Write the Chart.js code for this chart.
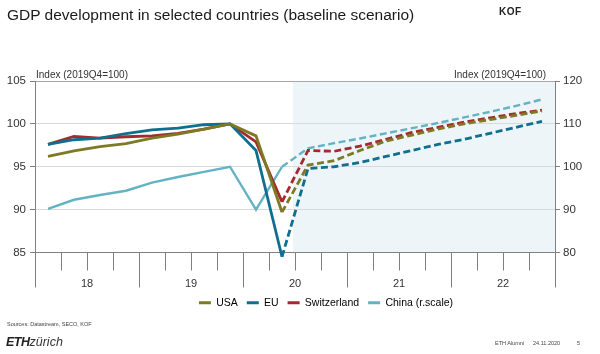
<!DOCTYPE html>
<html lang="en">
<head>
    <meta charset="UTF-8">
    <title>GDP development in selected countries</title>
    <script src="https://cdn.jsdelivr.net/npm/chart.js@4.4.1/dist/chart.umd.min.js"></script>
    <style>
        body {
            margin: 0;
            background: #fff;
            font-family: "Liberation Sans", Arial, sans-serif;
            color: #222;
        }
        .slide {
            position: relative;
            width: 600px;
            height: 354px;
            overflow: hidden;
        }
        .slide canvas {
            position: absolute;
            left: 0;
            top: 0;
        }
        .txt {
            position: absolute;
            white-space: nowrap;
            line-height: 1;
        }
        .title { left: 7px; top: 7px; font-size: 15.5px; color: #1a1a1a; }
        .kof { left: 499px; top: 7px; font-size: 10px; font-weight: bold; letter-spacing: 0.5px; }
        .unit { top: 70px; font-size: 10px; color: #333; }
        .src { left: 7px; top: 322px; font-size: 5.5px; color: #444; }
        .eth { left: 6px; top: 336px; font-size: 12.5px; font-style: italic; }
        .eth b { font-weight: 900; letter-spacing: -0.5px; }
        .eth span { font-weight: normal; color: #333; }
        .foot { top: 341px; font-size: 5.5px; color: #444; }
    </style>
</head>
<body>
<div class="slide">
    <canvas id="gdpChart" width="600" height="354"></canvas>
    <div class="txt title">GDP development in selected countries (baseline scenario)</div>
    <div class="txt kof">KOF</div>
    <div class="txt unit" style="left:36px">Index (2019Q4=100)</div>
    <div class="txt unit" style="left:454px">Index (2019Q4=100)</div>
    <div class="txt src">Sources: Datastream, SECO, KOF</div>
    <div class="txt eth"><b>ETH</b><span>zürich</span></div>
    <div class="txt foot" style="left:495px">ETH Alumni</div>
    <div class="txt foot" style="left:533px">24.11.2020</div>
    <div class="txt foot" style="left:577px">5</div>
</div>
<script>
    // quarters 2018Q1 .. 2022Q4
    const quarters = [
        '2018Q1', '2018Q2', '2018Q3', '2018Q4',
        '2019Q1', '2019Q2', '2019Q3', '2019Q4',
        '2020Q1', '2020Q2', '2020Q3', '2020Q4',
        '2021Q1', '2021Q2', '2021Q3', '2021Q4',
        '2022Q1', '2022Q2', '2022Q3', '2022Q4'
    ];
    const yearLabels = ['18', '19', '20', '21', '22'];

    // index 2019Q4 = 100, last observed quarter is 2020Q2
    const usa = [96.2, 96.85, 97.35, 97.7, 98.35, 98.8, 99.4, 100, 98.6, 89.7,
                 95.2, 95.7, 96.9, 98.0, 98.7, 99.4, 100.0, 100.5, 101.0, 101.5];
    const eu = [97.6, 98.15, 98.35, 98.85, 99.3, 99.5, 99.9, 100, 96.9, 84.5,
                94.8, 95.0, 95.5, 96.2, 96.9, 97.6, 98.2, 98.9, 99.6, 100.3];
    const switzerland = [97.6, 98.55, 98.35, 98.5, 98.6, 98.9, 99.4, 100, 97.9, 90.9,
                         96.9, 96.8, 97.4, 98.2, 99.0, 99.6, 100.2, 100.7, 101.2, 101.6];
    const china = [90.2, 92.3, 93.4, 94.4, 96.3, 97.6, 98.8, 100, 90.0, 100.0,
                   104.3, 105.5, 106.6, 107.8, 109.0, 110.2, 111.5, 112.8, 114.2, 115.7];

    const lastObserved = 9;    // 2020Q2, dashed after this
    const forecastFrom = 10;   // shaded area starts at 2020Q3

    Chart.defaults.font.family = '"Liberation Sans", Arial, sans-serif';
    Chart.defaults.color = '#333';

    // points sit in the middle of each quarter
    function toPoints(values) {
        return values.map((v, i) => ({x: i + 0.5, y: v}));
    }

    function makeSeries(label, values, color, width, axis) {
        return {
            label: label,
            data: toPoints(values),
            yAxisID: axis,
            borderColor: color,
            backgroundColor: color,
            borderWidth: width,
            pointRadius: 0,
            tension: 0,
            clip: false,
            segment: {
                borderDash: ctx => ctx.p0DataIndex >= lastObserved ? [7, 3.5] : undefined
            }
        };
    }

    const slideExtras = {
        id: 'slideExtras',
        beforeDraw(chart) {
            // forecast background
            const {ctx, chartArea: a, scales: {x}} = chart;
            const left = x.getPixelForValue(forecastFrom) - 2;
            ctx.save();
            ctx.fillStyle = '#edf5f8';
            ctx.fillRect(left, a.top, a.right - left, a.bottom - a.top);
            ctx.restore();
        },
        afterLayout(chart) {
            // legend sits a bit right of centre on the slide
            chart.legend.left += 26;
            chart.legend.right += 26;
        },
        afterDraw(chart) {
            // short ticks between quarters, long ticks between years
            const {ctx, chartArea: a, scales: {x}} = chart;
            ctx.save();
            ctx.strokeStyle = '#808080';
            ctx.lineWidth = 1;
            for (let i = 0; i <= quarters.length; i++) {
                const px = Math.round(x.getPixelForValue(i)) + 0.5;
                const len = i % 4 === 0 ? 35 : 18;
                ctx.beginPath();
                ctx.moveTo(px, a.bottom);
                ctx.lineTo(px, a.bottom + len);
                ctx.stroke();
            }
            ctx.restore();
        }
    };

    new Chart(document.getElementById('gdpChart'), {
        type: 'line',
        data: {
            datasets: [
                makeSeries('USA', usa, '#7d7a23', 2.8, 'y'),
                makeSeries('EU', eu, '#0e6f8e', 2.8, 'y'),
                makeSeries('Switzerland', switzerland, '#a52a2f', 2.8, 'y'),
                makeSeries('China (r.scale)', china, '#64b3c4', 2.4, 'y2')
            ]
        },
        options: {
            responsive: false,
            animation: false,
            layout: {padding: {top: 81, bottom: 36, left: 0, right: 0}},
            plugins: {
                tooltip: {enabled: false},
                legend: {
                    position: 'bottom',
                    labels: {
                        boxWidth: 12,
                        boxHeight: 3,
                        padding: 9,
                        color: '#333',
                        font: {size: 10.5},
                        generateLabels: chart => chart.data.datasets.map((ds, i) => ({
                            text: ds.label,
                            fillStyle: ds.borderColor,
                            strokeStyle: ds.borderColor,
                            lineWidth: 0,
                            datasetIndex: i,
                            hidden: false
                        }))
                    }
                }
            },
            scales: {
                x: {
                    type: 'linear',
                    min: 0,
                    max: quarters.length,
                    afterBuildTicks: s => {
                        s.ticks = quarters.map((q, i) => ({value: i})).concat({value: quarters.length});
                    },
                    afterFit: s => { s.height = 36; },
                    grid: {drawOnChartArea: false, drawTicks: false},
                    border: {color: '#808080'},
                    ticks: {
                        autoSkip: false,
                        maxRotation: 0,
                        padding: 25,
                        color: '#333',
                        font: {size: 11},
                        callback: v => v % 4 === 2 ? yearLabels[(v - 2) / 4] : ''
                    }
                },
                y: {
                    position: 'left',
                    min: 85,
                    max: 105,
                    afterFit: s => { s.width = 35; },
                    grid: {
                        color: c => c.tick.value === 105 ? '#a6a6a6' : (c.tick.value === 85 ? '#808080' : '#d9d9d9'),
                        tickColor: '#808080',
                        tickLength: 5
                    },
                    border: {color: '#808080'},
                    ticks: {stepSize: 5, padding: 4, color: '#333', font: {size: 11.5}}
                },
                y2: {
                    position: 'right',
                    min: 80,
                    max: 120,
                    afterFit: s => { s.width = 45; },
                    grid: {drawOnChartArea: false, tickColor: '#808080', tickLength: 5},
                    border: {color: '#808080'},
                    ticks: {stepSize: 10, padding: 3, color: '#333', font: {size: 11.5}}
                }
            }
        },
        plugins: [slideExtras]
    });
</script>
</body>
</html>
